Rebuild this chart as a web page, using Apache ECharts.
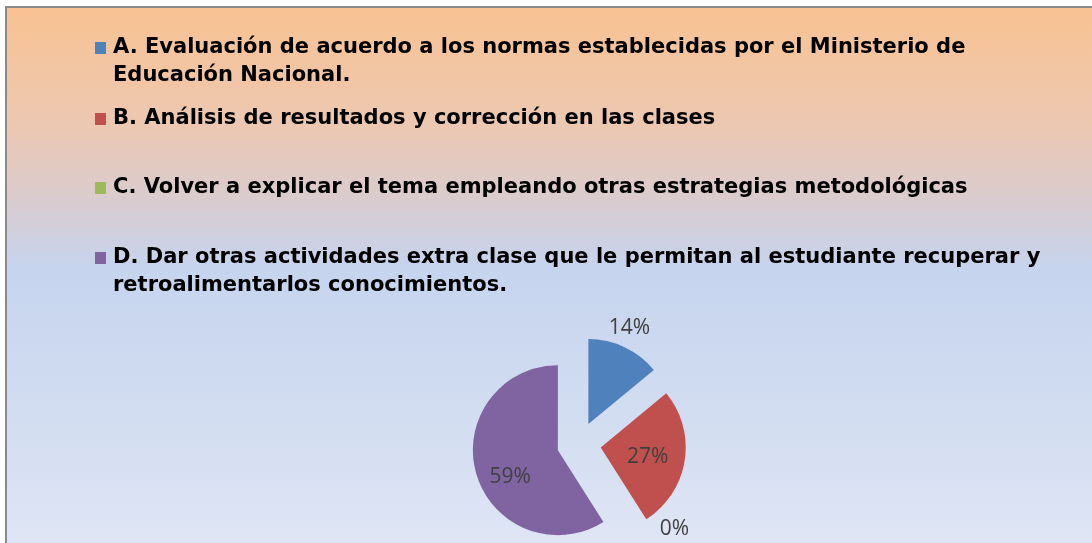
<!DOCTYPE html>
<html>
<head>
<meta charset="utf-8">
<script src="https://cdn.jsdelivr.net/npm/echarts@6/dist/echarts.min.js"></script>
<style>
  html, body { margin: 0; padding: 0; background: #fff; }
  #chart { width: 1092px; height: 543px; }
</style>
</head>
<body>
<div id="chart"></div>
<script>
const categories = [
  'A. Evaluación de acuerdo a los normas establecidas por el Ministerio de Educación Nacional.',
  'B. Análisis de resultados y corrección en las clases',
  'C. Volver a explicar el tema empleando otras estrategias metodológicas',
  'D. Dar otras actividades extra clase que le permitan al estudiante recuperar y retroalimentarlos conocimientos.',
]
const values = [14, 27, 0, 59]
// legend text as wrapped on the slide
const legendText = [
  'A. Evaluación de acuerdo a los normas establecidas por el Ministerio de\nEducación Nacional.',
  'B. Análisis de resultados y corrección en las clases',
  'C. Volver a explicar el tema empleando otras estrategias metodológicas',
  'D. Dar otras actividades extra clase que le permitan al estudiante recuperar y\nretroalimentarlos conocimientos.',
]
const labelPos = ['outside', 'inside', 'outside', 'inside']

const colors = ['#4f81bd', '#c0504d', '#9bbb59', '#8064a2']
const legendTops = [34, 105, 174, 244]
// nudges so the percent labels sit where the slide has them
const labelNudge = [[-25, -10], [2, 2], [13, -14], [-4, 14]]

// 11x12 square; the invisible corner point sets the icon box so the
// square stays on the first text line and leaves a gap before the text
const iconOneLine = 'path://M0,0H11V12H0Z M13,12H13.01V12.01H13Z'
const iconTwoLines = 'path://M0,0H11V12H0Z M13,40H13.01V40.01H13Z'

const chart = echarts.init(document.getElementById('chart'))

chart.setOption({
  backgroundColor: '#fff',
  color: colors,
  animation: false,
  graphic: [{
    type: 'rect',
    silent: true,
    z: -10,
    shape: { x: 6, y: 7, width: 1100, height: 546 },
    style: {
      fill: new echarts.graphic.LinearGradient(0, 0, 0, 1, [
        { offset: 0, color: '#f9c292' },
        { offset: 0.22, color: '#ecc8b2' },
        { offset: 0.36, color: '#d9ccd0' },
        { offset: 0.48, color: '#c6d4ee' },
        { offset: 0.75, color: '#d2ddf1' },
        { offset: 1, color: '#e0e6f5' },
      ]),
      stroke: '#8a8a8a',
      lineWidth: 2,
    },
  }],
  legend: categories.map((name, i) => {
    const twoLines = legendText[i].includes('\n')
    return {
      data: [{ name, icon: twoLines ? iconTwoLines : iconOneLine }],
      left: 95,
      top: legendTops[i],
      padding: 0,
      orient: 'vertical',
      itemWidth: 13,
      itemHeight: twoLines ? 40 : 12,
      itemGap: 0,
      selectedMode: false,
      itemStyle: { borderWidth: 0 },
      formatter: () => legendText[i],
      textStyle: {
        fontFamily: 'DejaVu Sans',
        fontWeight: 'bold',
        fontSize: 21,
        lineHeight: 28,
        color: '#000',
      },
    }
  }),
  series: [{
    type: 'pie',
    center: [579, 444],
    radius: 85,
    startAngle: 90,
    selectedMode: 'multiple',
    selectedOffset: 22,
    avoidLabelOverlap: false,
    percentPrecision: 0,
    itemStyle: { borderWidth: 0 },
    emphasis: { disabled: true },
    label: {
      formatter: '{d}%',
      fontFamily: 'Open Sans',
      fontSize: 21,
      color: '#404040',
    },
    labelLine: { show: false, length: 10, length2: 0 },
    labelLayout: (params) => ({
      dx: labelNudge[params.dataIndex][0],
      dy: labelNudge[params.dataIndex][1],
    }),
    data: categories.map((name, i) => ({
      name,
      value: values[i],
      selected: true,
      label: { position: labelPos[i] },
    })),
  }],
})
</script>
</body>
</html>
